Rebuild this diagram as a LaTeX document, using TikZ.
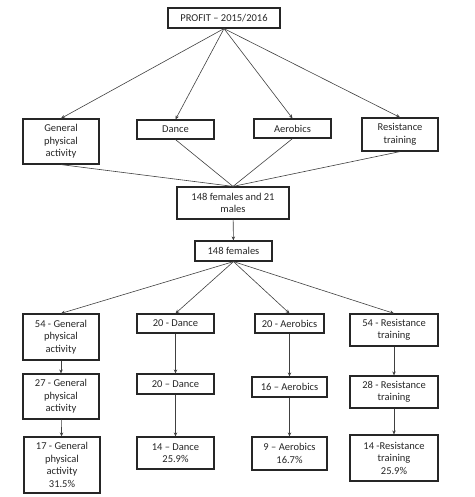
\documentclass[tikz,border=0pt]{standalone}
\usepackage{fontspec}
\setmainfont{Carlito}
\usepackage{tikz}
\usetikzlibrary{arrows.meta,positioning}

\begin{document}
\begin{tikzpicture}[x=1pt,y=-1pt,
    box/.style={draw=black!85,line width=1.2pt,align=center,inner sep=0pt,
      text=black!85,font=\fontsize{10.5}{12.5}\selectfont},
    wh/.style 2 args={minimum width=#1pt,minimum height=#2pt},
    conn/.style={draw=black!75,line width=0.6pt},
    arr/.style={conn,-{Stealth[length=4pt,width=3.5pt]}}]
  \useasboundingbox (0,0) rectangle (474,497);
  % top level
  \node[box,wh={112}{20}] (profit) at (224,18) {PROFIT -- 2015/2016};
  \node[box,wh={76}{45}] (gpa) at (61,141.5) {General\\physical\\activity};
  \node[box,wh={77}{19}] (dance) at (175.5,129.5) {Dance};
  \node[box,wh={77}{19}] (aero) at (292.5,128.5) {Aerobics};
  \node[box,wh={76}{33}] (resist) at (400,134.5) {Resistance\\training};
  \node[box,wh={112}{32}] (mixed) at (233,203) {148 females and 21\\males};
  \node[box,wh={77}{20}] (fem) at (233.5,251) {148 females};
  % branches
  \node[box,wh={76}{46}] (gpaA) at (61,337) {54 - General\\physical\\activity};
  \node[box,wh={76}{45}] (gpaB) at (61,396.5) {27 - General\\physical\\activity};
  \node[box,wh={76}{56}] (gpaC) at (62,465) {17 - General\\physical\\activity\\31.5\%};
  \node[box,wh={77}{19}] (danceA) at (175.5,323.5) {20 - Dance};
  \node[box,wh={77}{20}] (danceB) at (175.5,384) {20 -- Dance};
  \node[box,wh={77}{32}] (danceC) at (175.5,453) {14 -- Dance\\25.9\%};
  \node[box,wh={69}{19}] (aeroA) at (289.5,323.5) {20 - Aerobics};
  \node[box,wh={75}{20}] (aeroB) at (289.5,387) {16 -- Aerobics};
  \node[box,wh={75}{33}] (aeroC) at (289.5,453.5) {9 -- Aerobics\\16.7\%};
  \node[box,wh={88}{32}] (resA) at (394,330) {54 - Resistance\\training};
  \node[box,wh={88}{32}] (resB) at (394,392) {28 - Resistance\\training};
  \node[box,wh={88}{46}] (resC) at (394,458) {14 -Resistance\\training\\25.9\%};
  % connectors
  \foreach \t in {gpa,dance,aero,resist}{
    \draw[arr] (profit.south) -- (\t.north);
    \draw[conn] (\t.south) -- (mixed.north);
  }
  \draw[arr] (mixed) -- (fem);
  \foreach \t in {gpa,dance,aero,res}{
    \draw[arr] (fem.south) -- (\t A.north);
    \draw[arr] (\t A) -- (\t B);
    \draw[arr] (\t B) -- (\t C);
  }
\end{tikzpicture}
\end{document}
